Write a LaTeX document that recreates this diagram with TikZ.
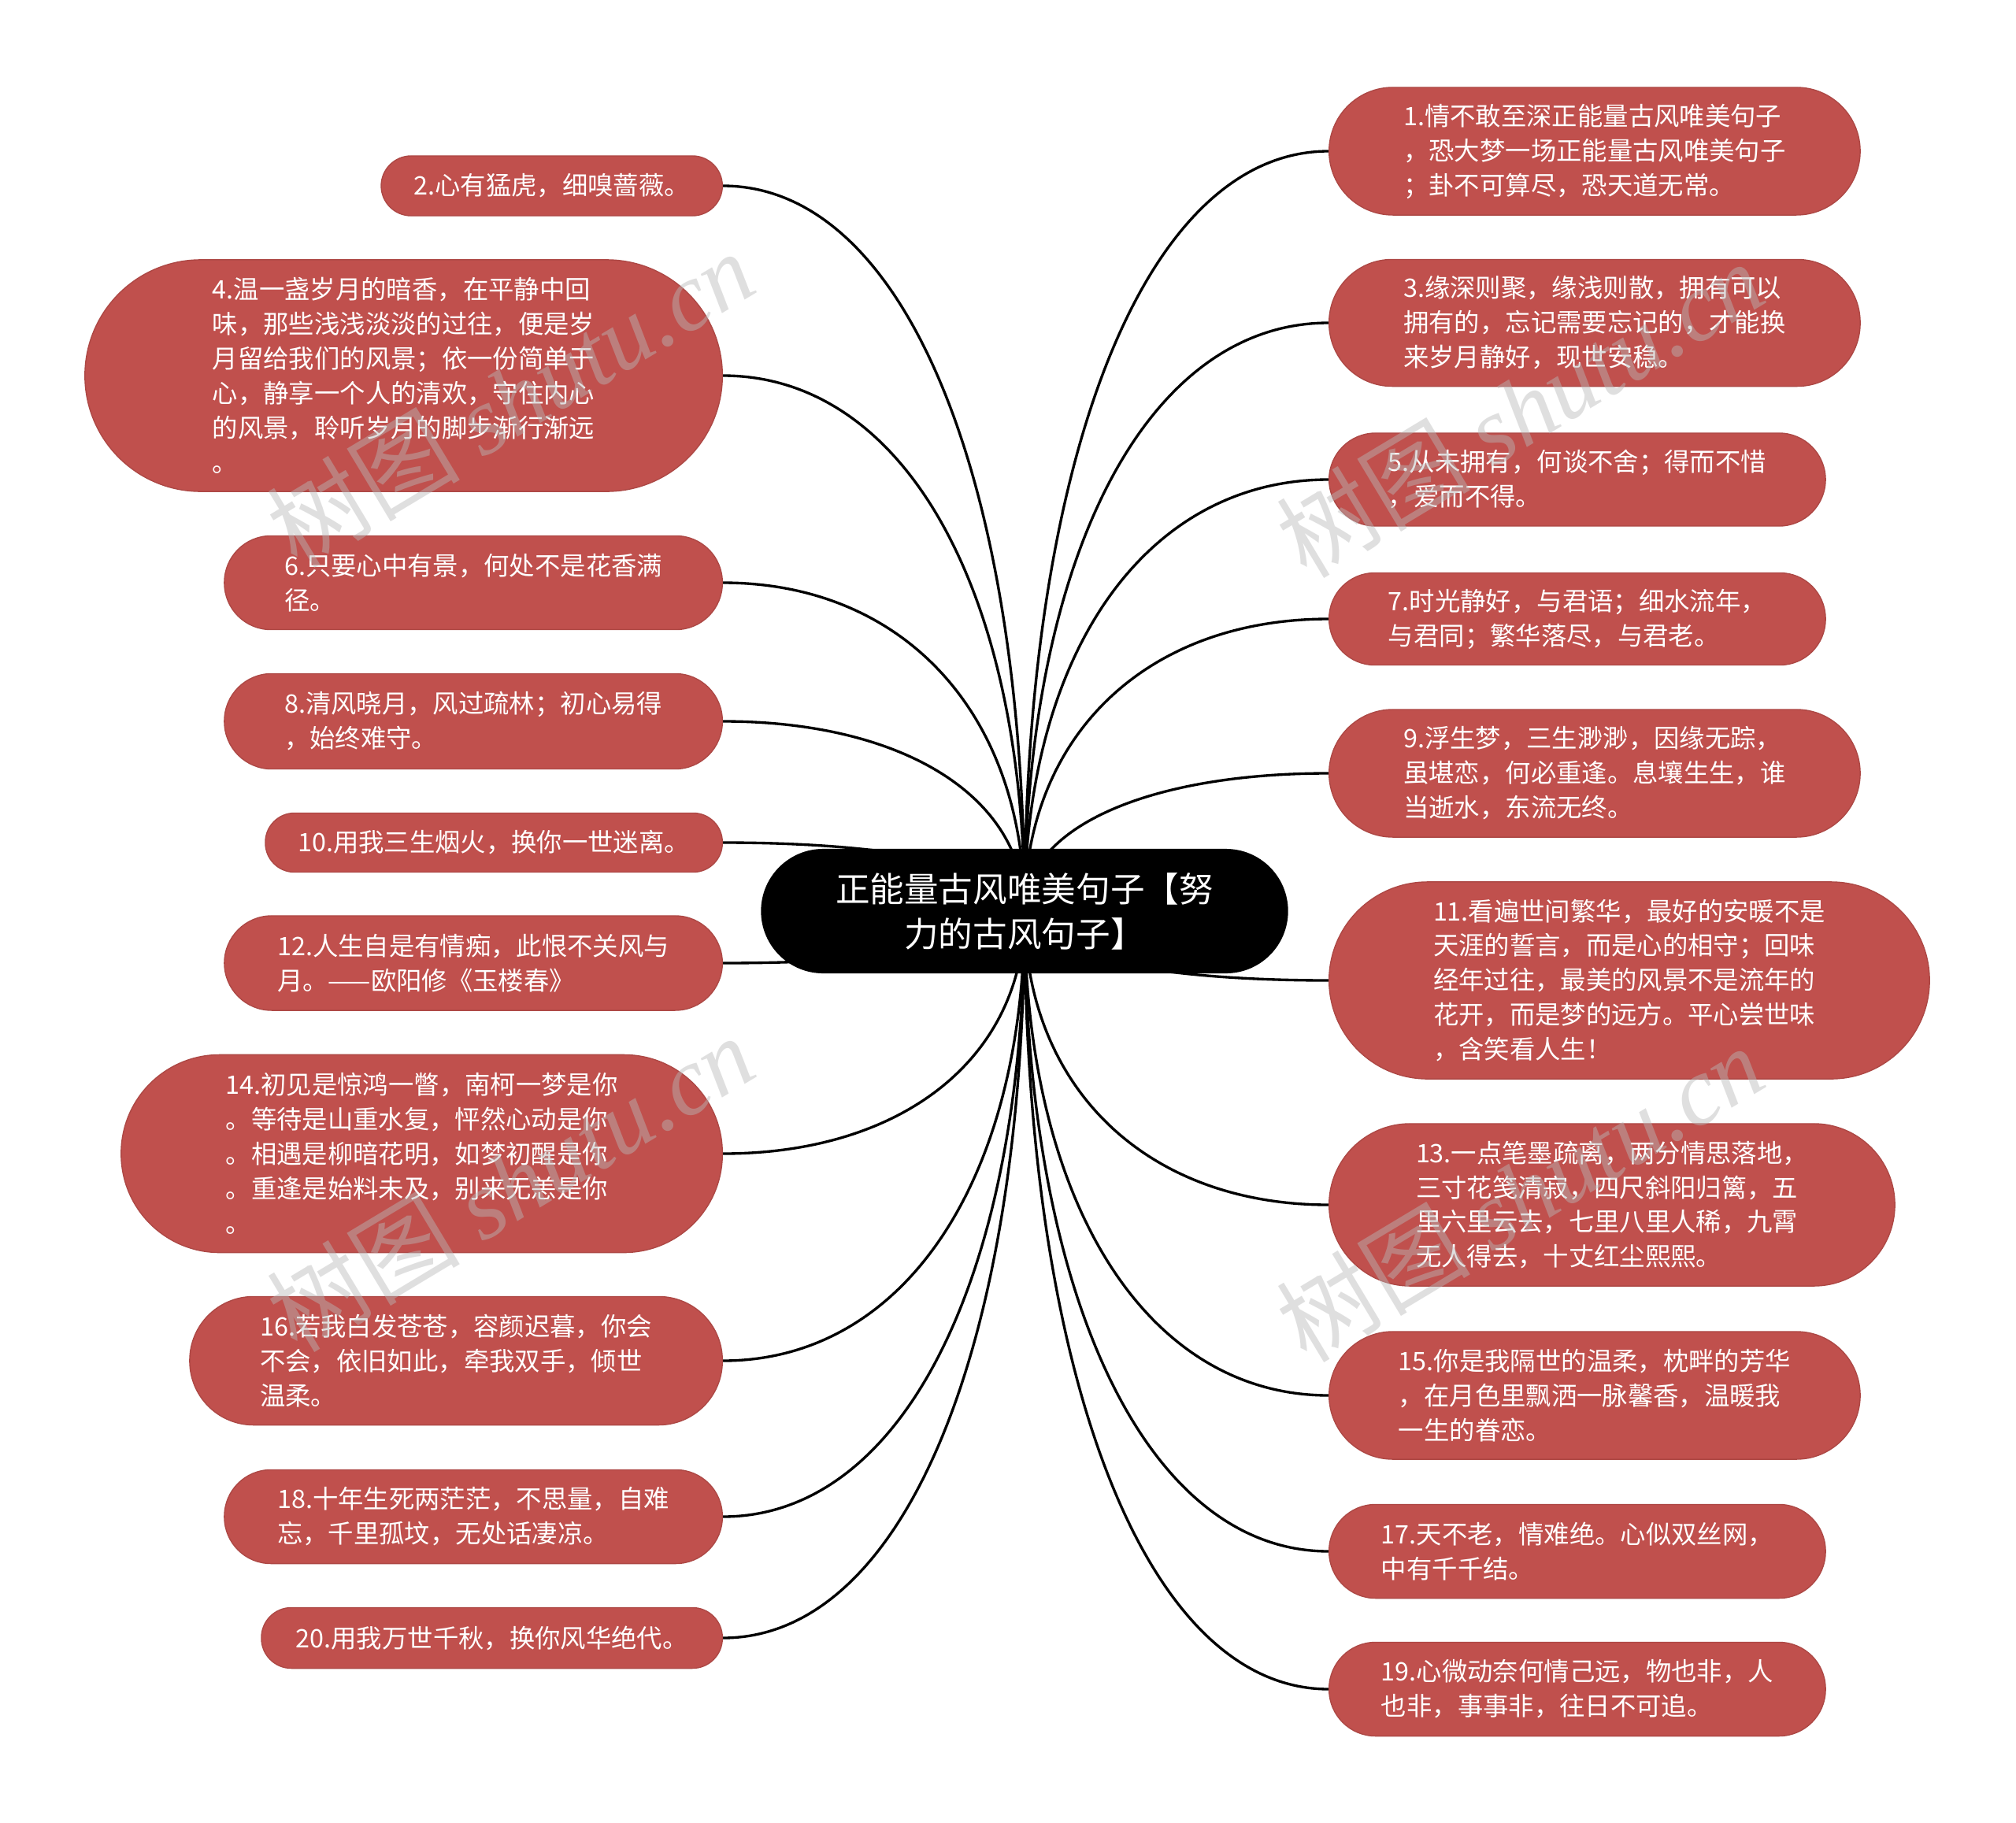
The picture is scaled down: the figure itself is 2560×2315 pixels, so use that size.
\documentclass[tikz,border=0pt]{standalone}
\usepackage{fontspec}
\setmainfont{Noto Sans CJK SC}
\newfontfamily\wmfont{Liberation Serif}
\usetikzlibrary{positioning,backgrounds,calc}
\definecolor{leafred}{RGB}{192,80,77}

\begin{document}
\begin{tikzpicture}[x=0.01cm, y=-0.01cm,
  box/.style={rectangle, fill=leafred, draw=leafred!90!black, line width=0.4pt, text=white, align=left, inner sep=0pt, font=\fontsize{9.2pt}{12.5pt}\selectfont},
  root/.style={rectangle, fill=black, text=white, align=center, inner sep=0pt, font=\fontsize{12.4pt}{16.2pt}\selectfont},
  link/.style={line width=0.95pt, draw=black},
  wmark/.style={text=gray!55, opacity=0.45, rotate=31, font=\fontsize{35pt}{35pt}\selectfont},
]
\useasboundingbox (0,0) rectangle (2560,2315);

% === CENTRAL TOPIC ===
\node[root, minimum width=6.69cm, minimum height=1.58cm, rounded corners=0.79cm] (root) at (1301,1157) {正能量古风唯美句子【努\\力的古风句子】};

% === RIGHT BRANCHES (odd) ===
\node[box, minimum width=6.74cm, minimum height=1.62cm, rounded corners=0.81cm, anchor=west] (n1) at (1687,192) {1.情不敢至深正能量古风唯美句子\\，恐大梦一场正能量古风唯美句子\\；卦不可算尽，恐天道无常。};
\node[box, minimum width=6.74cm, minimum height=1.61cm, rounded corners=0.8cm, anchor=west] (n3) at (1687,410) {3.缘深则聚，缘浅则散，拥有可以\\拥有的，忘记需要忘记的，才能换\\来岁月静好，现世安稳。};
\node[box, minimum width=6.3cm, minimum height=1.18cm, rounded corners=0.59cm, anchor=west] (n5) at (1687,609) {5.从未拥有，何谈不舍；得而不惜\\，爱而不得。};
\node[box, minimum width=6.3cm, minimum height=1.17cm, rounded corners=0.58cm, anchor=west] (n7) at (1687,786) {7.时光静好，与君语；细水流年，\\与君同；繁华落尽，与君老。};
\node[box, minimum width=6.74cm, minimum height=1.62cm, rounded corners=0.81cm, anchor=west] (n9) at (1687,982) {9.浮生梦，三生渺渺，因缘无踪，\\虽堪恋，何必重逢。息壤生生，谁\\当逝水，东流无终。};
\node[box, minimum width=7.62cm, minimum height=2.5cm, rounded corners=1.25cm, anchor=west] (n11) at (1687,1245) {11.看遍世间繁华，最好的安暖不是\\天涯的誓言，而是心的相守；回味\\经年过往，最美的风景不是流年的\\花开，而是梦的远方。平心尝世味\\，含笑看人生！};
\node[box, minimum width=7.18cm, minimum height=2.06cm, rounded corners=1.03cm, anchor=west] (n13) at (1687,1530) {13.一点笔墨疏离，两分情思落地，\\三寸花笺清寂，四尺斜阳归篱，五\\里六里云去，七里八里人稀，九霄\\无人得去，十丈红尘熙熙。};
\node[box, minimum width=6.74cm, minimum height=1.62cm, rounded corners=0.81cm, anchor=west] (n15) at (1687,1772) {15.你是我隔世的温柔，枕畔的芳华\\，在月色里飘洒一脉馨香，温暖我\\一生的眷恋。};
\node[box, minimum width=6.3cm, minimum height=1.19cm, rounded corners=0.59cm, anchor=west] (n17) at (1687,1970) {17.天不老，情难绝。心似双丝网，\\中有千千结。};
\node[box, minimum width=6.3cm, minimum height=1.19cm, rounded corners=0.59cm, anchor=west] (n19) at (1687,2145) {19.心微动奈何情己远，物也非，人\\也非，事事非，往日不可追。};

% === LEFT BRANCHES (even) ===
\node[box, minimum width=4.33cm, minimum height=0.76cm, rounded corners=0.38cm, anchor=east] (n2) at (918,236) {2.心有猛虎，细嗅蔷薇。};
\node[box, minimum width=8.09cm, minimum height=2.94cm, rounded corners=1.47cm, anchor=east] (n4) at (918,477) {4.温一盏岁月的暗香，在平静中回\\味，那些浅浅淡淡的过往，便是岁\\月留给我们的风景；依一份简单于\\心，静享一个人的清欢，守住内心\\的风景，聆听岁月的脚步渐行渐远\\。};
\node[box, minimum width=6.32cm, minimum height=1.19cm, rounded corners=0.59cm, anchor=east] (n6) at (918,740) {6.只要心中有景，何处不是花香满\\径。};
\node[box, minimum width=6.32cm, minimum height=1.21cm, rounded corners=0.6cm, anchor=east] (n8) at (918,916) {8.清风晓月，风过疏林；初心易得\\，始终难守。};
\node[box, minimum width=5.8cm, minimum height=0.75cm, rounded corners=0.37cm, anchor=east] (n10) at (918,1070) {10.用我三生烟火，换你一世迷离。};
\node[box, minimum width=6.32cm, minimum height=1.2cm, rounded corners=0.6cm, anchor=east] (n12) at (918,1223) {12.人生自是有情痴，此恨不关风与\\月。——欧阳修《玉楼春》};
\node[box, minimum width=7.63cm, minimum height=2.51cm, rounded corners=1.25cm, anchor=east] (n14) at (918,1465) {14.初见是惊鸿一瞥，南柯一梦是你\\。等待是山重水复，怦然心动是你\\。相遇是柳暗花明，如梦初醒是你\\。重逢是始料未及，别来无恙是你\\。};
\node[box, minimum width=6.76cm, minimum height=1.63cm, rounded corners=0.81cm, anchor=east] (n16) at (918,1728) {16.若我白发苍苍，容颜迟暮，你会\\不会，依旧如此，牵我双手，倾世\\温柔。};
\node[box, minimum width=6.32cm, minimum height=1.19cm, rounded corners=0.59cm, anchor=east] (n18) at (918,1926) {18.十年生死两茫茫，不思量，自难\\忘，千里孤坟，无处话凄凉。};
\node[box, minimum width=5.85cm, minimum height=0.77cm, rounded corners=0.38cm, anchor=east] (n20) at (918,2080) {20.用我万世千秋，换你风华绝代。};

% === CONNECTORS ===
\begin{scope}[on background layer]
\foreach \i in {1,3,...,19}
  \draw[link] (root.center) .. controls ($(root.center)!0.6!(root.center |- n\i.west)$) and ($(n\i.west)!0.6!(root.center |- n\i.west)$) .. (n\i.west);
\foreach \i in {2,4,...,20}
  \draw[link] (root.center) .. controls ($(root.center)!0.6!(root.center |- n\i.east)$) and ($(n\i.east)!0.6!(root.center |- n\i.east)$) .. (n\i.east);
\end{scope}

% watermarks
\node[wmark] (wm1) at (648,506) {树图 {\wmfont\itshape shutu.cn}};
\node[wmark] (wm2) at (1930,519) {树图 {\wmfont\itshape shutu.cn}};
\node[wmark] (wm3) at (648,1502) {树图 {\wmfont\itshape shutu.cn}};
\node[wmark] (wm4) at (1930,1515) {树图 {\wmfont\itshape shutu.cn}};
\end{tikzpicture}
\end{document}
